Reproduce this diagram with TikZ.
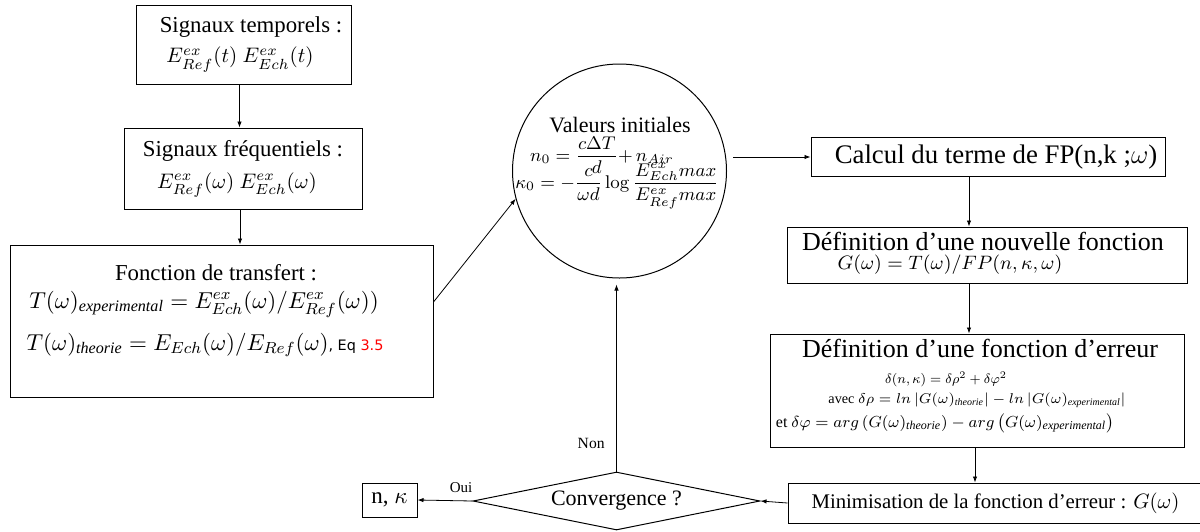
\RequirePackage{fix-cm}
\documentclass[tikz,border=0pt]{standalone}
\usepackage{amsmath}
\usepackage[no-math]{fontspec}
\setmainfont{Liberation Serif}
\newfontfamily\eqfont{DejaVu Sans}
\usetikzlibrary{shapes.geometric,arrows.meta}
\newcommand\fs[2]{\fontsize{#1}{#2}\selectfont}
\begin{document}
\begin{tikzpicture}[x=0.5pt,y=-0.5pt,
  box/.style={draw, line width=0.5pt, inner sep=0, align=center},
  arr/.style={-{Latex[length=3pt,width=2.2pt]}, line width=0.4pt},
  lbl/.style={inner sep=0, anchor=base}]
\useasboundingbox (0,0) rectangle (1200,531);

% left column
\node[box, minimum width=107.5pt, minimum height=39.5pt, font=\fs{11.4}{15}] (sig) at (243.5,44.5)
  {\hspace*{7.5pt}Signaux temporels :\\ \fs{10.5}{15}$E^{ex}_{Ref}(t)$ $E^{ex}_{Ech}(t)$\hspace*{3.5pt}};
\node[box, minimum width=119pt, minimum height=40.5pt, font=\fs{11.4}{16}] (freq) at (243,168.5)
  {Signaux fréquentiels :\\ \fs{10.5}{16}$E^{ex}_{Ref}(\omega)$ $E^{ex}_{Ech}(\omega)$\hspace*{6pt}};
\node[box, minimum width=211.5pt, minimum height=76pt] (tf) at (221.5,321) {};
\node[lbl, font=\fs{11.4}{14}] (tft) at (216,280) {Fonction de transfert :};
\node[lbl, font=\fs{11.5}{14}] (tf1) at (204,308)
  {$T(\omega)_{\textit{experimental}} = E^{ex}_{Ech}(\omega)/E^{ex}_{Ref}(\omega))$};
\node[lbl, font=\fs{11.5}{14}] (tf2) at (205,350)
  {$T(\omega)_{\textit{theorie}} = E_{Ech}(\omega)/E_{Ref}(\omega)${\eqfont\fs{7.2}{8}, Eq \textcolor{red}{3.5}}};

% circle
\node[draw, circle, line width=0.5pt, minimum size=107pt, inner sep=0] (ci) at (619.5,171) {};
\node[lbl, font=\fs{11}{13}] (civ) at (620,132) {Valeurs initiales};
\node[lbl, font=\fs{9.2}{11}] (cin) at (602,161) {$\displaystyle n_0=\frac{c\Delta T}{d}{+}\,n_{Air}$};
\node[lbl, font=\fs{9.2}{11}] (cik) at (617,188)
  {$\displaystyle \kappa_0=-\frac{c}{\omega d}\log\frac{E^{ex}_{Ech}max}{E^{ex}_{Ref}max}$};

% right column
\node[box, minimum width=177pt, minimum height=19.5pt, font=\fs{13.4}{15}] (calc) at (988,157)
  {\hspace*{8pt}Calcul du terme de FP(n,k ;$\omega$)};
\node[box, minimum width=200pt, minimum height=28pt] (nouv) at (987,255) {};
\node[lbl, font=\fs{13}{15}] (nouvt) at (983,250) {Définition d’une nouvelle fonction};
\node[lbl, font=\fs{9.7}{11}] (nouvf) at (950,269) {$G(\omega)=T(\omega)/FP(n,\kappa,\omega)$};
\node[box, minimum width=207pt, minimum height=56.5pt] (err) at (977,390.5) {};
\node[lbl, font=\fs{13}{15}] (errt) at (980,357) {Définition d’une fonction d’erreur};
\node[lbl, font=\fs{8}{10}] (err1) at (946,383)
  {\scalebox{0.84}{$\delta(n,\kappa)=\delta\rho^2+\delta\varphi^2$}};
\node[lbl, font=\fs{7.4}{9}] (err2) at (977,403)
  {\scalebox{0.96}{avec $\delta\rho = ln\,|G(\omega)_{\textit{theorie}}| - ln\,|G(\omega)_{\textit{experimental}}|$}};
\node[lbl, font=\fs{8}{10}] (err3) at (945,427)
  {et $\delta\varphi = arg\left(G(\omega)_{\textit{theorie}}\right) - arg\left(G(\omega)_{\textit{experimental}}\right)$};
\node[box, minimum width=208.5pt, minimum height=20pt, font=\fs{10.4}{12}] (min) at (996.5,503)
  {Minimisation de la fonction d’erreur : $G(\omega)$\hspace*{1pt}};

% bottom
\node[draw, diamond, aspect=4.95, minimum width=143.5pt, minimum height=29pt, inner sep=0,
  line width=0.5pt, font=\fs{11}{13}] (conv) at (616.5,501) {Convergence ?};
\node[box, minimum width=27.5pt, minimum height=17pt, font=\fs{11.5}{13}] (nk) at (389.5,500) {n, $\kappa$};
\node[font=\fs{7.8}{9}, inner sep=0, anchor=east] (non) at (605,443) {Non};
\node[font=\fs{7.5}{9}, inner sep=0] (oui) at (461,488) {Oui};

% connectors
\draw[arr] ([xshift=-2pt]sig.south) -- ([xshift=-2pt]sig.south |- freq.north);
\draw[arr] ([xshift=-1.5pt]freq.south) -- ([xshift=-1.5pt]freq.south |- tf.north);
\draw[arr] ([yshift=9.5pt]tf.east) -- (ci.195);
\draw[arr, shorten <=3pt] (ci.east |- calc.west) -- (calc.west);
\draw[arr] ([xshift=-9.5pt]calc.south) -- ([xshift=-9.5pt]calc.south |- nouv.north);
\draw[arr] ([xshift=-9pt]nouv.south) -- ([xshift=-9pt]nouv.south |- err.north);
\draw[arr] ([xshift=-1pt]err.south) -- ([xshift=-1pt]err.south |- min.north);
\draw[arr] (min.west) -- (conv.east);
\draw[arr, shorten >=3pt] (conv.north) -- (conv.north |- ci.south);
\draw[arr] (conv.west) -- (nk.east);
\end{tikzpicture}
\end{document}
